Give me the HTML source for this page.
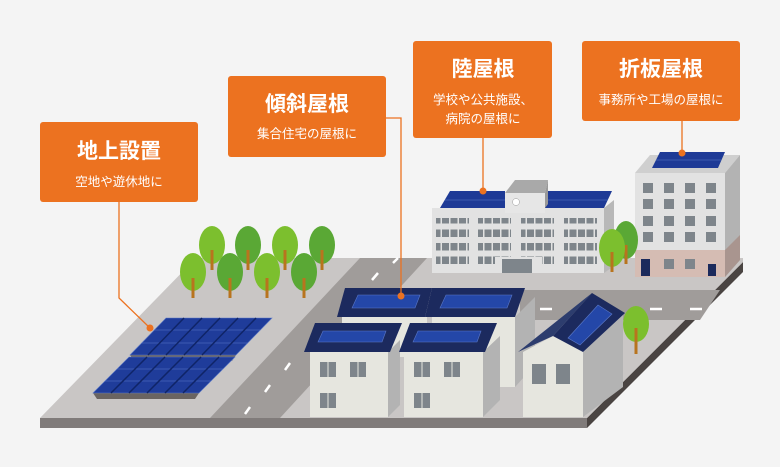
<!DOCTYPE html>
<html><head><meta charset="utf-8"><style>
html,body{margin:0;padding:0;background:#f4f4f4;}
svg{display:block}
text{font-family:"Liberation Sans","Noto Sans CJK JP",sans-serif;fill:#fff}
</style></head><body>
<svg width="780" height="467" viewBox="0 0 780 467" xmlns="http://www.w3.org/2000/svg">
<defs>
<pattern id="win" x="0" y="0" width="8.5" height="13.5" patternUnits="userSpaceOnUse"><rect width="7" height="7.5" fill="#7e858b"/></pattern>
</defs>
<rect width="780" height="467" fill="#f4f4f4"/>
<!-- ground -->
<polygon points="40,418 587,418 587,428 40,428" fill="#807b7a"/>
<polygon points="587,418 743,262 743,272 587,428" fill="#4a4442"/>
<polygon points="40,418 196,258 743,258 743,262 587,418" fill="#c9c6c5"/>
<!-- roads -->
<polygon points="210,418 280,418 427,258 360,258" fill="#a09c9a"/>
<polygon points="520,290 720,290 700,320 520,320" fill="#a09c9a"/>
<g stroke="#fff" stroke-width="2.5">
<line x1="245" y1="414" x2="250" y2="407"/><line x1="265" y1="392" x2="270" y2="385"/><line x1="285" y1="370" x2="290" y2="363"/>
<line x1="372" y1="280" x2="378" y2="273"/><line x1="393" y1="263" x2="398" y2="258"/>
<line x1="540" y1="309" x2="552" y2="309"/><line x1="650" y1="309" x2="662" y2="309"/><line x1="690" y1="309" x2="702" y2="309"/>
</g>
<!-- solar farm -->
<g fill="#6a6461"><polygon points="130,355 236,355 232,361 134,361"/><polygon points="93,393 199,393 195,399 97,399"/></g>
<g fill="#1f3c9a" stroke="#5a78c8" stroke-width="0.6">
<polygon points="130,355 236,355 272,318 166,318"/>
<polygon points="93,393 199,393 235,357 129,357"/>
</g>
<g stroke="#5a78c8" stroke-width="0.6">
<line x1="142" y1="343" x2="248" y2="343"/><line x1="154" y1="330" x2="260" y2="330"/>
<line x1="105" y1="381" x2="211" y2="381"/><line x1="117" y1="369" x2="223" y2="369"/>
</g>
<g stroke="#0f2467" stroke-width="1.5">
<line x1="148" y1="355" x2="184" y2="318"/><line x1="166" y1="355" x2="202" y2="318"/><line x1="184" y1="355" x2="220" y2="318"/><line x1="202" y1="355" x2="238" y2="318"/><line x1="220" y1="355" x2="256" y2="318"/>
<line x1="111" y1="393" x2="147" y2="357"/><line x1="129" y1="393" x2="165" y2="357"/><line x1="147" y1="393" x2="183" y2="357"/><line x1="165" y1="393" x2="201" y2="357"/><line x1="183" y1="393" x2="219" y2="357"/>
</g>
<!-- trees -->
<g>
<g fill="#7cbf2e"><ellipse cx="212" cy="245" rx="13" ry="19"/><ellipse cx="285" cy="245" rx="13" ry="19"/></g>
<g fill="#5aa835"><ellipse cx="248" cy="245" rx="13" ry="19"/><ellipse cx="322" cy="245" rx="13" ry="19"/></g>
<g stroke="#b8741e" stroke-width="3"><line x1="212" y1="250" x2="212" y2="270"/><line x1="248" y1="250" x2="248" y2="270"/><line x1="285" y1="250" x2="285" y2="270"/><line x1="322" y1="250" x2="322" y2="270"/></g>
<g fill="#7cbf2e"><ellipse cx="193" cy="272" rx="13" ry="19"/><ellipse cx="267" cy="272" rx="13" ry="19"/></g>
<g fill="#5aa835"><ellipse cx="230" cy="272" rx="13" ry="19"/><ellipse cx="304" cy="272" rx="13" ry="19"/></g>
<g stroke="#b8741e" stroke-width="3"><line x1="193" y1="278" x2="193" y2="298"/><line x1="230" y1="278" x2="230" y2="298"/><line x1="267" y1="278" x2="267" y2="298"/><line x1="304" y1="278" x2="304" y2="298"/></g>
</g>
<!-- school -->
<rect x="432" y="208" width="172" height="65" fill="#e2e2e2"/>
<polygon points="604,208 614,200 614,266 604,273" fill="#b8b8b8"/>
<polygon points="440,208 450,191 505,191 505,208" fill="#1e3a96"/>
<polygon points="540,208 548,191 612,191 604,208" fill="#1e3a96"/>
<g stroke="#5a78c8" stroke-width="0.6"><line x1="445" y1="200" x2="505" y2="200"/><line x1="544" y1="200" x2="608" y2="200"/></g>
<rect x="505" y="193" width="40" height="20" fill="#e6e6e6"/>
<polygon points="505,193 515,180 548,180 545,193" fill="#a9a9a9"/>
<polygon points="545,193 548,180 548,204 545,208" fill="#999"/>
<circle cx="516" cy="202" r="3.5" fill="#fff" stroke="#999" stroke-width="0.5"/>
<rect x="436" y="218" width="33" height="50" fill="url(#win)"/>
<rect x="478" y="218" width="33" height="50" fill="url(#win)"/>
<rect x="521" y="218" width="33" height="50" fill="url(#win)"/>
<rect x="564" y="218" width="33" height="50" fill="url(#win)"/>
<rect x="495" y="257" width="47" height="16" fill="#e2e2e2"/>
<rect x="502" y="259" width="30" height="14" fill="#7e858b"/>
<!-- tall building -->
<rect x="635" y="173" width="90" height="104" fill="#e2e2e2"/>
<rect x="635" y="250" width="90" height="27" fill="#d5bcb3"/>
<polygon points="635,173 650,155 740,155 725,173" fill="#cfcfcf"/>
<polygon points="725,173 740,155 740,260 725,277" fill="#b3b3b3"/>
<polygon points="725,250 740,235 740,260 725,277" fill="#a9958f"/>
<polygon points="652,168 660,152 725,152 718,168" fill="#1e3a96"/>
<g stroke="#5a78c8" stroke-width="0.6"><line x1="656" y1="160" x2="721" y2="160"/></g>
<g fill="#7e858b">
<rect x="643" y="183" width="10" height="10"/><rect x="664" y="183" width="10" height="10"/><rect x="685" y="183" width="10" height="10"/><rect x="706" y="183" width="10" height="10"/>
<rect x="643" y="199" width="10" height="10"/><rect x="664" y="199" width="10" height="10"/><rect x="685" y="199" width="10" height="10"/><rect x="706" y="199" width="10" height="10"/>
<rect x="643" y="216" width="10" height="10"/><rect x="664" y="216" width="10" height="10"/><rect x="685" y="216" width="10" height="10"/><rect x="706" y="216" width="10" height="10"/>
<rect x="643" y="232" width="10" height="10"/><rect x="664" y="232" width="10" height="10"/><rect x="685" y="232" width="10" height="10"/><rect x="706" y="232" width="10" height="10"/>
<rect x="664" y="259" width="10" height="10"/><rect x="685" y="259" width="10" height="10"/>
</g>
<rect x="641" y="259" width="9" height="17" fill="#1b2a5c"/><rect x="708" y="264" width="8" height="12" fill="#1b2a5c"/>
<!-- trees near school -->
<ellipse cx="626" cy="240" rx="12" ry="19" fill="#5aa835"/><line x1="626" y1="245" x2="626" y2="264" stroke="#b8741e" stroke-width="3"/>
<ellipse cx="612" cy="248" rx="13" ry="19" fill="#7cbf2e"/><line x1="612" y1="252" x2="612" y2="272" stroke="#b8741e" stroke-width="3"/>
<ellipse cx="636" cy="324" rx="13" ry="18" fill="#7cbf2e"/><line x1="636" y1="328" x2="636" y2="354" stroke="#b8741e" stroke-width="3"/>
<!-- back houses -->
<rect x="342" y="317" width="85" height="40" fill="#e6e6df"/>
<rect x="432" y="317" width="83" height="70" fill="#e6e6df"/>
<polygon points="515,317 535,297 535,365 515,387" fill="#b3b3b3"/>
<polygon points="337,317 345,288 432,288 425,317" fill="#1c2a5e"/>
<polygon points="425,317 432,288 525,288 515,317" fill="#1c2a5e"/>
<polygon points="352,308 358,295 420,295 415,308" fill="#2447a8" stroke="#5a78c8" stroke-width="0.6"/>
<polygon points="440,308 446,295 512,295 507,308" fill="#2447a8" stroke="#5a78c8" stroke-width="0.6"/>
<!-- front houses -->
<rect x="310" y="352" width="78" height="65" fill="#e6e6df"/>
<polygon points="388,352 400,340 400,405 388,417" fill="#b3b3b3"/>
<rect x="404" y="352" width="79" height="65" fill="#e6e6df"/>
<polygon points="483,352 500,336 500,400 483,417" fill="#b3b3b3"/>
<polygon points="304,352 315,323 402,323 390,352" fill="#1c2a5e"/>
<polygon points="399,352 410,323 497,323 485,352" fill="#1c2a5e"/>
<polygon points="318,342 323,331 386,331 382,342" fill="#2447a8" stroke="#5a78c8" stroke-width="0.6"/>
<polygon points="413,342 418,331 481,331 477,342" fill="#2447a8" stroke="#5a78c8" stroke-width="0.6"/>
<g fill="#7e858b">
<rect x="320" y="362" width="16" height="15"/><rect x="350" y="362" width="16" height="15"/><rect x="320" y="393" width="16" height="15"/>
<rect x="414" y="362" width="16" height="15"/><rect x="444" y="362" width="16" height="15"/><rect x="414" y="393" width="16" height="15"/>
</g>
<g stroke="#e6e6df" stroke-width="1"><line x1="328" y1="362" x2="328" y2="377"/><line x1="358" y1="362" x2="358" y2="377"/><line x1="328" y1="393" x2="328" y2="408"/><line x1="422" y1="362" x2="422" y2="377"/><line x1="452" y1="362" x2="452" y2="377"/><line x1="422" y1="393" x2="422" y2="408"/></g>
<!-- gable house -->
<polygon points="583,352 623,313 623,387 583,417" fill="#b3b3b3"/>
<polygon points="523,352 553,336 583,352 583,417 523,417" fill="#e6e6df"/>
<polygon points="518,352 592,293 553,336" fill="#2d3d6e"/>
<polygon points="553,336 592,293 625,313 583,352" fill="#1c2a5e"/>
<polygon points="568,338 598,305 612,314 580,345" fill="#2447a8" stroke="#5a78c8" stroke-width="0.6"/>
<g fill="#7e858b"><rect x="532" y="364" width="14" height="20"/><rect x="556" y="364" width="14" height="20"/></g>
<!-- callouts -->
<g fill="#ec7220">
<rect x="40" y="122" width="158" height="80" rx="3"/>
<rect x="228" y="76" width="158" height="81" rx="3"/>
<rect x="413" y="41" width="139" height="97" rx="3"/>
<rect x="582" y="41" width="158" height="80" rx="3"/>
</g>
<g stroke="#ec7220" stroke-width="1.3" fill="none">
<polyline points="119,202 119,298 150,328"/>
<polyline points="386,118 401,118 401,296"/>
<line x1="483" y1="138" x2="483" y2="190"/>
<line x1="682" y1="121" x2="682" y2="152"/>
</g>
<g fill="#ec7220"><circle cx="150" cy="328" r="3.5"/><circle cx="401" cy="296" r="3.5"/><circle cx="483" cy="191" r="3.5"/><circle cx="682" cy="153" r="3.5"/></g>
<g text-anchor="middle">
<text x="119" y="158" font-size="21" font-weight="bold">地上設置</text>
<text x="119" y="186" font-size="12.5">空地や遊休地に</text>
<text x="307" y="111" font-size="21" font-weight="bold">傾斜屋根</text>
<text x="307" y="138" font-size="12.5">集合住宅の屋根に</text>
<text x="483" y="76" font-size="21" font-weight="bold">陸屋根</text>
<text x="483" y="104" font-size="12.5">学校や公共施設、</text>
<text x="483" y="123" font-size="12.5">病院の屋根に</text>
<text x="661" y="76" font-size="21" font-weight="bold">折板屋根</text>
<text x="661" y="104" font-size="12.5">事務所や工場の屋根に</text>
</g>
</svg>
</body></html>
